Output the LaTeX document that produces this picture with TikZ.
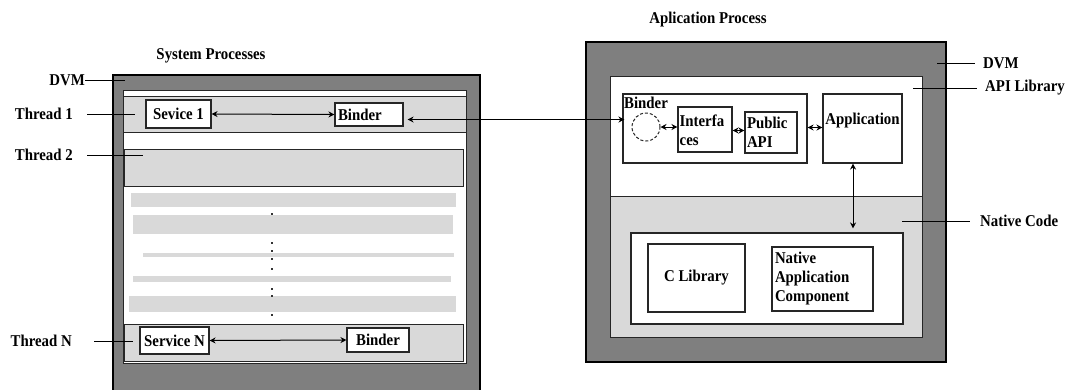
\documentclass[tikz,border=0pt]{standalone}
\usepackage{fontspec}
\setmainfont{Liberation Serif}[FakeStretch=0.9]
\usepackage{xcolor}
\usepackage{tikz}
\usetikzlibrary{arrows.meta,calc,positioning}
\definecolor{dvmgray}{RGB}{127,127,127}
\definecolor{bandgray}{RGB}{217,217,217}

\begin{document}
\begin{tikzpicture}[x=1pt,y=-1pt,
  every node/.style={font=\bfseries\fontsize{16.5}{19}\selectfont},
  frame/.style={fill=dvmgray,draw=black,line width=1.2pt},
  band/.style={fill=bandgray,draw=black!85,line width=1pt},
  box/.style={draw=black!85,line width=1.1pt,fill=white,inner sep=2pt},
  lbl/.style={inner sep=0pt},
  lead/.style={line width=1pt},
  link/.style={line width=1pt,{Stealth[length=6pt,width=6pt]}-{Stealth[length=6pt,width=6pt]}}]
  \useasboundingbox (0,0) rectangle (1067,389);
  % system processes
  \filldraw[frame] (113,75) rectangle (480,392);
  \filldraw[fill=white,draw=black!85,line width=1pt] (123,90) rectangle (466,363);
  \filldraw[band] (123,96) rectangle (466,132);
  \filldraw[band] (124,149) rectangle (463,186);
  \fill[bandgray] (131,193) rectangle (456,207);
  \fill[bandgray] (133,215) rectangle (453,234);
  \fill[bandgray] (143,253) rectangle (454,257);
  \fill[bandgray] (133,276) rectangle (451,282);
  \fill[bandgray] (129,296) rectangle (456,312);
  \foreach \y in {213,242,250,258,268,288,295,314}
    \fill[black!80] (271,\y) rectangle +(2,2);
  \filldraw[band] (124,324) rectangle (463,361);
  \node[box,minimum width=65pt,minimum height=28pt] (sv1) at (178.5,114) {Sevice 1};
  \node[box,minimum width=68pt,minimum height=23pt,text width=62pt,align=left] (bnd1) at (369,114.5) {Binder};
  \node[box,minimum width=69pt,minimum height=27pt] (svN) at (174.5,340.5) {Service N};
  \node[box,minimum width=62pt,minimum height=24pt] (bndN) at (378,340) {Binder};
  \draw[link] (sv1.east) -- (bnd1.west);
  \draw[link] (svN.east) -- (bndN.west);

  \node[lbl] at (211,56) {System Processes};
  \node[lbl,anchor=east] (ldvm) at (85,80) {DVM};
  \node[lbl,anchor=east] (lt1) at (73,114) {Thread 1};
  \node[lbl,anchor=east] (lt2) at (73,155) {Thread 2};
  \node[lbl,anchor=east] (ltN) at (72,341) {Thread N};
  \coordinate (pdvm) at (125,80);
  \coordinate (pt1) at (135,114);
  \coordinate (pt2) at (143,155);
  \coordinate (ptN) at (133,341);
  \draw[lead] (ldvm.east) -- (pdvm);
  \draw[lead,shorten <=14pt] (lt1.east) -- (pt1);
  \draw[lead,shorten <=14pt] (lt2.east) -- (pt2);
  \draw[lead,shorten <=22pt] (ltN.east) -- (ptN);

  % application process
  \filldraw[frame] (586,42) rectangle (946,362);
  \filldraw[fill=white,draw=black!85,line width=1pt] (610,76) rectangle (922,196);
  \filldraw[fill=bandgray,draw=black!85,line width=1pt] (610,196) rectangle (922,337);
  \node[box,minimum width=272pt,minimum height=91pt] (ncbox) at (767,278.5) {};
  \node[box,minimum width=97pt,minimum height=68pt] (clib) at (696.5,278) {C Library};
  \node[box,minimum width=101pt,minimum height=64pt,text width=95pt,align=left] (nac) at (822.5,279) {Native\\Application\\Component};
  \node[box,minimum width=184pt,minimum height=69pt,
        label={[anchor=north west,inner sep=1.5pt,yshift=-2pt]north west:Binder}] (bcont) at (715,128.5) {};
  \node[box,minimum width=79pt,minimum height=69pt,
        label={[anchor=north,yshift=-19pt,inner sep=0pt]north:Application}] (app) at (862.5,128.5) {};
  \node[circle,draw=black!85,dashed,dash pattern=on 3pt off 2pt,line width=1pt,
        minimum size=28pt,inner sep=0pt] (bcirc) at (646,127) {};
  \node[box,minimum width=54pt,minimum height=45pt,
        label={[anchor=north west,align=left,inner sep=2pt,yshift=-6pt]north west:Interfa\\ces}] (ifc) at (705,129.5) {};
  \node[box,minimum width=52pt,minimum height=41pt,text width=48pt,align=left] (pub) at (771,132.5) {Public\\API};
  \draw[link,shorten <=4pt] ($(bnd1.east)+(0,5)$) -- ($(bnd1.east -| bcont.west)+(2,5)$);
  \draw[link] (bcirc.east) -- (bcirc.east -| ifc.west);
  \draw[link] ($(ifc.east)+(0,1)$) -- ($(ifc.east -| pub.west)+(0,1)$);
  \draw[link] ($(bcont.east)+(0,-1)$) -- ($(app.west)+(0,-1)$);
  \draw[link] ($(app.south)+(-9.5,0)$) -- ($(app.south |- ncbox.north)+(-9.5,-4)$);

  \node[lbl] at (708,20) {Aplication Process};
  \node[lbl,anchor=west] (rdvm) at (983,63) {DVM};
  \node[lbl,anchor=west] (rapi) at (985,88) {API Library};
  \node[lbl,anchor=west] (rnat) at (980,221) {Native Code};
  \coordinate (qdvm) at (937,63);
  \coordinate (qapi) at (913,88);
  \coordinate (qnat) at (902,221);
  \draw[lead,shorten >=8pt] (qdvm) -- (rdvm.west);
  \draw[lead,shorten >=8pt] (qapi) -- (rapi.west);
  \draw[lead,shorten >=10pt] (qnat) -- (rnat.west);
\end{tikzpicture}
\end{document}
